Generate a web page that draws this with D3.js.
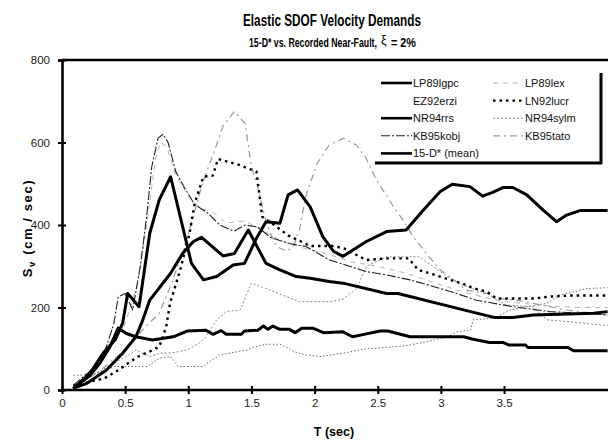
<!DOCTYPE html>
<html>
<head>
<meta charset="utf-8">
<script src="https://cdn.jsdelivr.net/npm/d3@7"></script>
<style>
  body { margin: 0; background: #fff; }
  svg { display: block; font-family: Arial, "Liberation Sans", sans-serif; }
</style>
</head>
<body>
<div id="chart"></div>
<script>
// Period T (sec) / spectral velocity Sv (cm/sec) pairs
const LP89lgpc = [[0.09,4],[0.22,35],[0.3,65],[0.38,105],[0.445,150],[0.51,137],[0.585,129],[0.715,121],[0.88,129],[0.99,143],[1.14,145],[1.195,135],[1.26,144],[1.3,135],[1.42,135],[1.445,143],[1.55,145],[1.595,155],[1.63,147],[1.67,155],[1.725,147],[1.8,147],[1.845,139],[1.9,150],[1.985,150],[2.07,139],[2.225,141],[2.3,129],[2.41,136],[2.52,143],[2.58,143],[2.755,129],[3.18,129],[3.255,123],[3.385,115],[3.495,115],[3.54,109],[3.67,109],[3.69,103],[4.005,103],[4.05,95],[4.32,95]];
const LP89lex = [[0.09,5],[0.25,50],[0.4,110],[0.5,160],[0.6,260],[0.68,420],[0.74,560],[0.78,600],[0.83,590],[0.9,520],[1.0,470],[1.1,440],[1.2,430],[1.3,405],[1.45,410],[1.6,385],[1.75,360],[1.9,345],[2.1,330],[2.3,310],[2.5,300],[2.7,285],[2.9,265],[3.1,245],[3.3,228],[3.5,215],[3.8,205],[4.1,200],[4.32,200]];
const EZ92erzi = [[0.09,36],[0.165,36],[0.27,40],[0.42,57],[0.675,57],[0.77,77],[0.86,81],[0.92,57],[1.12,57],[1.17,69],[1.25,85],[1.465,97],[1.51,103],[1.615,111],[1.725,111],[1.78,103],[1.835,93],[1.93,85],[2.04,81],[2.225,89],[2.385,99],[2.725,107],[2.94,121],[3.05,129],[3.125,141],[3.235,145],[3.255,170],[3.42,174],[3.55,194],[3.68,202],[3.84,210],[3.94,230],[4.05,238],[4.155,246],[4.32,248]];
const LN92lucr = [[0.09,10],[0.22,20],[0.335,28],[0.445,48],[0.595,80],[0.705,95],[0.77,105],[0.825,153],[0.855,210],[0.935,290],[1.01,380],[1.05,452],[1.12,517],[1.195,520],[1.235,560],[1.41,545],[1.54,529],[1.585,420],[1.68,400],[1.79,375],[1.965,349],[2.15,349],[2.235,343],[2.41,315],[2.57,319],[2.745,319],[2.82,291],[2.91,283],[3.07,267],[3.165,259],[3.255,247],[3.365,238],[3.44,222],[3.755,222],[3.84,226],[4.015,229],[4.32,229]];
const NR94rrs = [[0.09,4],[0.22,40],[0.325,89],[0.42,121],[0.48,162],[0.52,234],[0.61,202],[0.695,380],[0.77,461],[0.86,517],[1.025,307],[1.12,267],[1.225,275],[1.355,303],[1.445,307],[1.54,368],[1.615,408],[1.725,404],[1.79,473],[1.865,485],[1.965,444],[2.065,372],[2.15,336],[2.225,324],[2.41,360],[2.57,384],[2.725,388],[2.86,436],[2.995,481],[3.09,499],[3.23,493],[3.33,470],[3.41,479],[3.495,491],[3.57,491],[3.68,473],[3.81,436],[3.915,408],[3.995,424],[4.1,435],[4.32,435]];
const NR94sylm = [[0.09,5],[0.27,40],[0.435,70],[0.51,81],[0.585,97],[0.695,81],[0.77,89],[0.87,90],[0.99,97],[1.085,113],[1.14,129],[1.225,170],[1.3,190],[1.41,194],[1.5,259],[1.615,246],[1.78,226],[1.88,214],[2.115,214],[2.225,220],[2.335,246],[2.41,300],[2.57,323],[2.83,323],[2.94,299],[3.05,275],[3.2,251],[3.365,234],[3.515,206],[3.73,202],[3.84,170],[3.995,166],[4.32,156]];
const KB95kobj = [[0.09,12],[0.22,45],[0.33,85],[0.41,160],[0.445,226],[0.5,234],[0.56,194],[0.62,300],[0.67,420],[0.71,540],[0.76,610],[0.8,620],[0.84,600],[0.9,530],[0.97,490],[1.05,450],[1.15,430],[1.25,400],[1.36,385],[1.45,400],[1.55,395],[1.65,370],[1.8,355],[1.93,348],[2.12,315],[2.225,305],[2.41,287],[2.57,279],[2.755,267],[2.94,251],[3.125,234],[3.275,218],[3.57,202],[3.86,190],[4.12,186],[4.32,182]];
const KB95tato = [[0.09,8],[0.27,40],[0.435,80],[0.54,110],[0.65,150],[0.77,186],[0.87,260],[0.96,339],[1.04,420],[1.09,477],[1.14,525],[1.195,570],[1.275,640],[1.365,675],[1.45,646],[1.5,541],[1.55,493],[1.605,420],[1.65,380],[1.7,348],[1.78,336],[1.835,350],[1.88,388],[1.93,470],[2.02,549],[2.115,594],[2.23,610],[2.33,594],[2.4,566],[2.49,509],[2.625,444],[2.7,412],[2.78,372],[2.885,331],[2.995,291],[3.07,275],[3.2,242],[3.365,234],[3.46,222],[3.6,218],[3.99,194],[4.32,182]];
const mean15D = [[0.09,4],[0.195,16],[0.35,48],[0.48,89],[0.585,129],[0.63,162],[0.695,218],[0.86,283],[0.955,331],[1.04,360],[1.105,370],[1.275,325],[1.365,331],[1.475,388],[1.615,307],[1.725,291],[1.855,275],[1.965,271],[2.115,263],[2.225,259],[2.57,234],[2.66,234],[3.235,190],[3.42,176],[3.57,176],[3.73,182],[4.21,186],[4.32,190]];

const X_TICKS = [0, 0.5, 1, 1.5, 2, 2.5, 3, 3.5];
const Y_TICKS = [0, 200, 400, 600, 800];

// legend column/row; EZ92erzi has no visible sample in the original
const SERIES = [
  { name: 'EZ92erzi', data: EZ92erzi, stroke: '#555', w: 0.9, dash: '1.5,2', col: 0, row: 1, sample: false },
  { name: 'NR94sylm', data: NR94sylm, stroke: '#8a8a8a', w: 1, dash: '2,2', col: 1, row: 2 },
  { name: 'LP89lex', data: LP89lex, stroke: '#b4b4b4', w: 1, dash: '5,5', col: 1, row: 0 },
  { name: 'KB95tato', data: KB95tato, stroke: '#9a9a9a', w: 1.2, dash: '7,4,2,4', col: 1, row: 3 },
  { name: 'KB95kobj', data: KB95kobj, stroke: '#222', w: 1.1, dash: '9,2,2,2', col: 0, row: 3 },
  { name: 'LN92lucr', data: LN92lucr, stroke: '#000', w: 2.4, dash: '2.5,4', col: 1, row: 1 },
  { name: 'LP89lgpc', data: LP89lgpc, stroke: '#000', w: 3, dash: null, col: 0, row: 0 },
  { name: 'NR94rrs', data: NR94rrs, stroke: '#000', w: 3, dash: null, col: 0, row: 2 },
  { name: '15-D* (mean)', data: mean15D, stroke: '#000', w: 3, dash: null, col: 0, row: 4 },
];

const W = 608, H = 441;
const x = d3.scaleLinear().domain([0, 4]).range([62, 567.2]);
const y = d3.scaleLinear().domain([0, 800]).range([390, 60]);

const svg = d3.select('#chart').append('svg').attr('width', W).attr('height', H);

// squeeze a text horizontally to a target width (original uses a tight bold face)
function fitText(sel, tx, ty, width) {
  const k = width / sel.node().getComputedTextLength();
  sel.attr('transform', `translate(${tx},${ty}) scale(${k},1)`);
}

// Titles
fitText(svg.append('text').attr('font-size', 16.5).attr('font-weight', 'bold')
  .text('Elastic SDOF Velocity Demands'), 243, 26, 178);
fitText(svg.append('text').attr('font-size', 12).attr('font-weight', 'bold')
  .text('15-D* vs. Recorded Near-Fault,'), 249, 47, 128);
svg.append('text').attr('x', 381).attr('y', 43.5).attr('font-size', 12.5).text('ξ');
fitText(svg.append('text').attr('font-size', 12).attr('font-weight', 'bold')
  .text('= 2%'), 391, 47, 25);

// Lines
const line = d3.line().x(d => x(d[0])).y(d => y(d[1]));
svg.append('g').selectAll('path')
  .data(SERIES)
  .join('path')
  .attr('d', d => line(d.data))
  .attr('fill', 'none')
  .attr('stroke', d => d.stroke)
  .attr('stroke-width', d => d.w)
  .attr('stroke-dasharray', d => d.dash)
  .attr('stroke-linejoin', 'round');

// Axes
const gx = svg.append('g').attr('transform', `translate(0,${y(0)})`)
  .call(d3.axisBottom(x).tickValues(X_TICKS).tickFormat(d3.format('')).tickSize(4).tickPadding(5));
gx.selectAll('.tick line').attr('y1', -4).attr('stroke-width', 2);
gx.select('.domain').attr('d', `M${x(0)},0H${W}`).attr('stroke-width', 2.6);

const gy = svg.append('g').attr('transform', `translate(${x(0)},0)`)
  .call(d3.axisLeft(y).tickValues(Y_TICKS).tickSize(4).tickPadding(8));
gy.selectAll('.tick line').attr('x1', 4).attr('stroke-width', 2);
gy.select('.domain').attr('stroke-width', 2.6);

svg.selectAll('.tick text').attr('font-size', 11.5).attr('fill', '#222')
  .attr('font-family', 'Arial, "Liberation Sans", sans-serif');

// top frame line
svg.append('line').attr('x1', x(0)).attr('x2', W).attr('y1', y(800)).attr('y2', y(800))
  .attr('stroke', '#000').attr('stroke-width', 2.6);

// Axis titles
svg.append('text').attr('x', 334).attr('y', 436).attr('text-anchor', 'middle')
  .attr('font-size', 12.5).attr('font-weight', 'bold').text('T (sec)');
const yl = svg.append('text').attr('transform', 'translate(32,228) rotate(-90)')
  .attr('text-anchor', 'middle').attr('font-size', 13).attr('font-weight', 'bold')
  .attr('letter-spacing', 1.6);
yl.append('tspan').text('S');
yl.append('tspan').attr('font-size', 9.5).attr('dy', 3).text('v');
yl.append('tspan').attr('dy', -3).text(' (cm / sec)');

// Legend
const leg = svg.append('g');
leg.append('rect').attr('x', 375).attr('y', 62).attr('width', 226).attr('height', 101).attr('fill', '#fff');
leg.append('line').attr('x1', 375).attr('x2', 602).attr('y1', 163).attr('y2', 163).attr('stroke', '#000').attr('stroke-width', 3);
leg.append('line').attr('x1', 601).attr('x2', 601).attr('y1', 73).attr('y2', 164).attr('stroke', '#000').attr('stroke-width', 3);

const colX = [381, 493];
const items = leg.selectAll('g.item').data(SERIES).join('g')
  .attr('transform', d => `translate(${colX[d.col]},${83 + d.row * 17.6})`);
items.filter(d => d.sample !== false).append('line')
  .attr('x1', 0).attr('x2', 31).attr('y1', 0).attr('y2', 0)
  .attr('stroke', d => d.stroke).attr('stroke-width', d => Math.min(d.w, 2.6))
  .attr('stroke-dasharray', d => d.dash);
items.append('text').attr('x', 32).attr('y', 4)
  .attr('font-size', 11).attr('fill', '#111').text(d => d.name);
</script>
</body>
</html>
